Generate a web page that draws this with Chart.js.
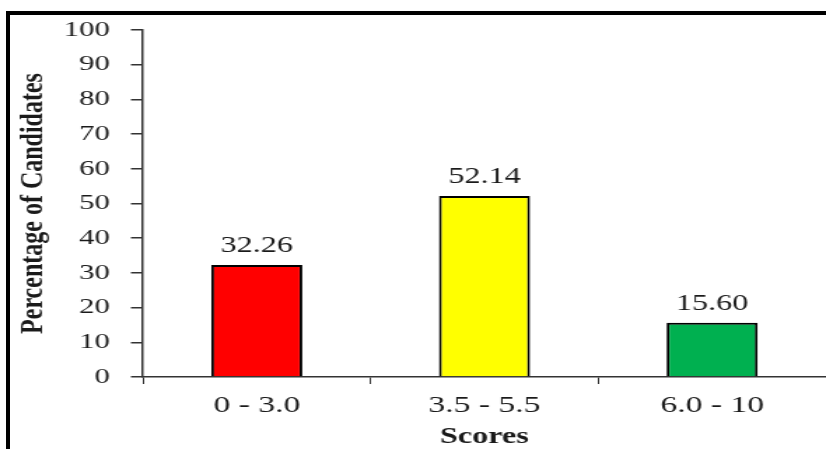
<!DOCTYPE html>
<html>
<head>
<meta charset="utf-8">
<script src="https://cdn.jsdelivr.net/npm/chart.js@4/dist/chart.umd.min.js"></script>
<style>
  html, body { margin: 0; padding: 0; background: #fff; }
  #wrap { position: relative; width: 826px; height: 449px; overflow: hidden; background: #fff; }
  #chart { position: absolute; left: 0; top: 0; }
  #frame {
    position: absolute; left: 6px; top: 11px; width: 820px; height: 438px;
    box-sizing: border-box; border-top: 4px solid #000; border-left: 4px solid #000;
    pointer-events: none;
  }
</style>
</head>
<body>
<div id="wrap">
  <canvas id="chart" width="590" height="449"></canvas>
  <div id="frame"></div>
</div>
<script>
// Score bands and the share of candidates in each
const categories = ['0 - 3.0', '3.5 - 5.5', '6.0 - 10'];
const percentages = [32.26, 52.14, 15.60];
const barColors = ['#FF0000', '#FFFF00', '#00B050'];
const yTicks = [0, 10, 20, 30, 40, 50, 60, 70, 80, 90, 100];

const SERIF = '"Liberation Serif", "Times New Roman", serif';
const INK = '#1a1a1a';
const AXIS = '#333333';

// Writes each bar's value, to two decimals, just above the bar
const valueLabels = {
  id: 'valueLabels',
  afterDatasetsDraw(chart) {
    const ctx = chart.ctx;
    const meta = chart.getDatasetMeta(0);
    const data = chart.data.datasets[0].data;
    ctx.save();
    ctx.font = '23px ' + SERIF;
    ctx.fillStyle = INK;
    ctx.textAlign = 'center';
    ctx.textBaseline = 'alphabetic';
    meta.data.forEach((bar, i) => {
      ctx.fillText(Number(data[i]).toFixed(2), bar.x, bar.y - 13);
    });
    ctx.restore();
  }
};

const canvas = document.getElementById('chart');
new Chart(canvas, {
  type: 'bar',
  data: {
    labels: categories,
    datasets: [{
      data: percentages,
      backgroundColor: barColors,
      borderColor: '#000000',
      borderWidth: 2,
      borderSkipped: 'bottom',
      categoryPercentage: 1.0,
      barPercentage: 0.4
    }]
  },
  options: {
    responsive: false,
    devicePixelRatio: 1,
    animation: false,
    events: [],
    layout: { padding: { top: 30, left: 0, right: 0, bottom: 0 } },
    plugins: {
      legend: { display: false },
      tooltip: { enabled: false }
    },
    scales: {
      x: {
        offset: true,
        border: { display: true, color: AXIS, width: 1.5 },
        grid: {
          offset: true,
          drawOnChartArea: false,
          drawTicks: true,
          tickLength: 7,
          color: AXIS,
          lineWidth: 1
        },
        ticks: {
          color: INK,
          font: { family: SERIF, size: 24 },
          padding: 7,
          maxRotation: 0
        },
        title: {
          display: true,
          text: 'Scores',
          color: INK,
          font: { family: SERIF, size: 23, weight: 'bold', lineHeight: 1 },
          padding: { top: 0, bottom: 0 }
        },
        afterFit(scale) { scale.height = 72; }
      },
      y: {
        min: 0,
        max: 100,
        afterBuildTicks(scale) { scale.ticks = yTicks.map(v => ({ value: v })); },
        border: { display: true, color: AXIS, width: 1.5 },
        grid: {
          drawOnChartArea: false,
          drawTicks: true,
          tickLength: 8.6,
          color: AXIS,
          lineWidth: 1.5
        },
        ticks: {
          color: INK,
          font: { family: SERIF, size: 22 },
          padding: 15
        },
        title: {
          display: true,
          text: 'Percentage of Candidates',
          color: INK,
          font: { family: SERIF, size: 24, weight: 'bold', lineHeight: 1.2 },
          padding: { top: 9, bottom: 0 }
        },
        afterFit(scale) { scale.width = 102.1; }
      }
    }
  },
  plugins: [valueLabels]
});

// Widen the drawn canvas to the full page width for the broad lettering
canvas.style.width = '826px';
canvas.style.height = '449px';
</script>
</body>
</html>
